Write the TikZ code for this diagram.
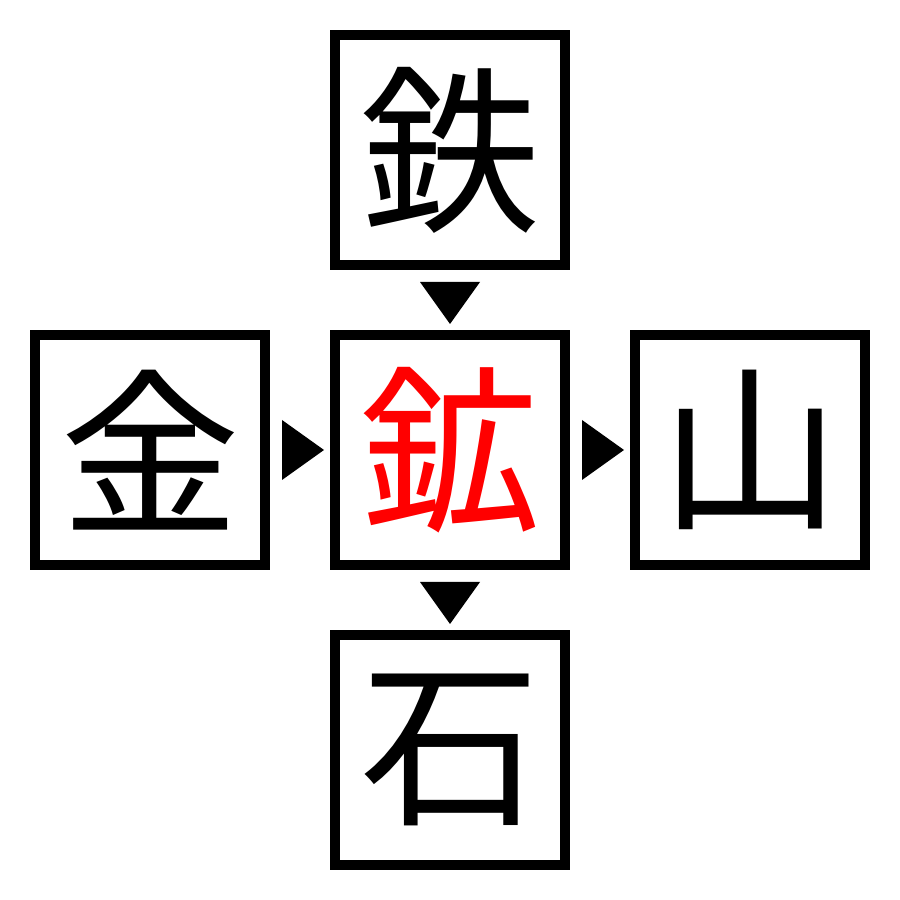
\documentclass[tikz,border=0pt]{standalone}
\usepackage{fontspec}
\newfontfamily\jp{Noto Sans CJK JP}
\usetikzlibrary{positioning,calc}
\tikzset{every picture/.style={line width=0.75pt}}
\tikzset{
  kanji/.style={draw, line width=10pt, minimum size=230pt, inner sep=0pt, font=\jp\fontsize{180pt}{180pt}\selectfont},
  pointer/.style={fill=black}
}
\begin{document}
\begin{tikzpicture}[x=1pt,y=1pt]
        \useasboundingbox (0,0) rectangle (900,900);

        % Center
        \node [kanji, text={rgb,255:red,255;green,0;blue,0}] (kou) at (450,450) {鉱};
        % Neighbours
        \node [kanji, above=60pt of kou] (tetsu) {鉄};
        \node [kanji, left=60pt of kou] (kin) {金};
        \node [kanji, right=60pt of kou] (yama) {山};
        \node [kanji, below=60pt of kou] (ishi) {石};

        % Triangles
        \fill [pointer] ($(tetsu.south)+(-30,-12)$) -- ($(tetsu.south)+(30,-12)$) -- ($(kou.north)+(0,6)$) -- cycle;
        \fill [pointer] ($(kin.east)+(12,30)$) -- ($(kin.east)+(12,-30)$) -- ($(kou.west)+(-6,0)$) -- cycle;
        \fill [pointer] ($(kou.east)+(12,30)$) -- ($(kou.east)+(12,-30)$) -- ($(yama.west)+(-6,0)$) -- cycle;
        \fill [pointer] ($(kou.south)+(-30,-12)$) -- ($(kou.south)+(30,-12)$) -- ($(ishi.north)+(0,6)$) -- cycle;

    \end{tikzpicture}
\end{document}
